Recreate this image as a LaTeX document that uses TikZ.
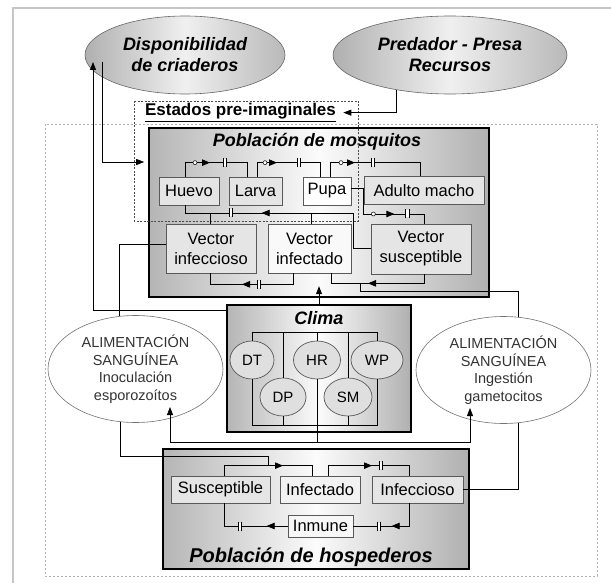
\documentclass[tikz,border=0pt]{standalone}
\usepackage{fontspec}
\setmainfont{Liberation Sans}
\usetikzlibrary{arrows.meta,decorations.markings,shapes.geometric}

\tikzset{
  panel/.style={draw=black, line width=1.6pt, left color=gray!58, right color=gray!62, middle color=gray!3},
  ptitle/.style={font=\fontsize{18}{20}\selectfont\bfseries\itshape},
  stock/.style={draw=black!65, line width=0.7pt, fill=gray!20, inner sep=0pt, align=center,
    font=\fontsize{16.5}{20}\selectfont, minimum height=28},
  topcloud/.style={ellipse, draw=black!60, line width=0.6pt, left color=gray!62, right color=gray!55,
    middle color=gray!12, align=center, font=\fontsize{18}{21}\selectfont\bfseries\itshape},
  feed/.style={ellipse, draw=black!55, line width=0.6pt, fill=white, inner sep=1pt, align=center,
    text=black!80, font=\fontsize{14.5}{17.5}\selectfont},
  factor/.style={ellipse, draw=black!65, line width=0.7pt, fill=gray!25, inner sep=0pt,
    font=\fontsize{15}{17}\selectfont, minimum height=38},
  regionline/.style={draw=gray!60, line width=0.8pt, dash pattern=on 2pt off 2pt},
  stagebox/.style={draw=black!70, line width=0.8pt, dash pattern=on 2pt off 1.5pt},
  valvecirc/.style={postaction={decorate, decoration={markings,
    mark=at position #1 with {\draw[fill=white, line width=0.5pt] (0,0) circle (2pt);}}}},
  valvetip/.style={postaction={decorate, decoration={markings,
    mark=at position #1 with {\arrow{Triangle[length=8pt,width=6.5pt]}}}}},
  valvebars/.style={postaction={decorate, decoration={markings,
    mark=at position #1 with {\fill[white] (-1.6pt,-3.5pt) rectangle (1.6pt,3.5pt);
      \draw[line width=0.7pt] (-1.6pt,-4.5pt) -- (-1.6pt,4.5pt) (1.6pt,-4.5pt) -- (1.6pt,4.5pt);}}}},
}

\begin{document}
\begin{tikzpicture}[x=1pt, y=-1pt, line width=0.8pt, >={Triangle[length=8pt,width=6pt]}]
  \useasboundingbox (0,0) rectangle (611,583);
  \fill[white] (0,0) rectangle (611,583);
  \draw[line width=2pt, draw=gray!45] (13,583) -- (13,8) -- (611,8);
  \draw[regionline] (45,124) rectangle (597,576);

  % influences
  \node[topcloud, minimum width=200, minimum height=78] (disp) at (185,55) {Disponibilidad\\de criaderos};
  \node[topcloud, minimum width=234, minimum height=78] (pred) at (450,55) {Predador - Presa\\Recursos};

  % panels
  \node[panel, minimum width=340, minimum height=169] (mosq) at (319,212.5) {};
  \node[panel, minimum width=184, minimum height=127] (clima) at (319,368.5) {};
  \node[panel, minimum width=306, minimum height=120] (host) at (316,509) {};
  \node[ptitle] (mosqtitle) at (317,142) {Población de mosquitos};
  \node[ptitle] (climatitle) at (319,318) {Clima};
  \node[ptitle, font=\fontsize{20}{22}\selectfont\bfseries\itshape] (hosttitle) at (311,557) {Población de hospederos};

  % mosquito stocks
  \node[stock, minimum width=60] (huevo) at (189,191) {Huevo};
  \node[stock, minimum width=53] (larva) at (255.5,191) {Larva};
  \node[stock, minimum width=48, fill=white] (pupa) at (327,191) {Pupa};
  \node[stock, minimum width=120] (adulto) at (424,190.5) {Adulto macho};
  \node[stock, minimum width=90, minimum height=49] (vinfeccioso) at (211,248.5) {Vector\\infeccioso};
  \node[stock, minimum width=83, minimum height=49, fill=gray!5] (vinfectado) at (309.5,248.5) {Vector\\infectado};
  \node[stock, minimum width=100, minimum height=50] (vsusceptible) at (421,249) {Vector\\susceptible};

  % climate factors
  \node[factor, minimum width=44] (dt) at (252,360) {DT};
  \node[factor, minimum width=47] (hr) at (317,360) {HR};
  \node[factor, minimum width=52] (wp) at (377,360) {WP};
  \node[factor, minimum width=46] (dp) at (283,397) {DP};
  \node[factor, minimum width=48] (sm) at (348,397) {SM};

  % host stocks
  \node[stock, minimum width=99, minimum height=27] (susceptible) at (220.5,489.5) {Susceptible};
  \node[stock, minimum width=80, minimum height=27, fill=gray!10] (infectado) at (320,489.5) {Infectado};
  \node[stock, minimum width=91, minimum height=27] (infeccioso) at (417.5,489.5) {Infeccioso};
  \node[stock, minimum width=65, minimum height=22, fill=gray!6] (inmune) at (320.5,526) {Inmune};

  % blood meals
  \node[feed, minimum width=175, minimum height=107] (inoculacion) at (135.5,369) {ALIMENTACIÓN\\SANGUÍNEA\\Inoculación\\esporozoítos};
  \node[feed, minimum width=175, minimum height=107] (ingestion) at (503.5,370) {ALIMENTACIÓN\\SANGUÍNEA\\Ingestión\\gametocitos};

  % pre-imaginal stages
  \draw[stagebox] (134,101) rectangle (358,221);
  \node[font=\fontsize{17}{20}\selectfont\bfseries, inner sep=2pt, anchor=base] (estados) at (240.5,116) {\underline{Estados pre-imaginales}};

  % mosquito flows
  \draw[valvecirc=24pt, valvetip=39pt, valvebars=54pt] ([xshift=-4]huevo.north) -- ++(0,-14) -| ([xshift=-8.5]larva.north);
  \draw[valvecirc=22pt, valvetip=34pt, valvebars=56pt] ([xshift=1.5]larva.north) -- ++(0,-14) -| ([xshift=-7]pupa.north);
  \draw[valvecirc=25pt, valvetip=39pt, valvebars=57pt] ([xshift=3]pupa.north) -- ++(0,-14) -| ([xshift=-4]adulto.north);
  \draw[valvecirc=48pt, valvetip=69pt, valvebars=82pt] ([yshift=3]pupa.east) -- ++(12,0) -- ++(0,26) -| ([xshift=3]vsusceptible.north);
  \draw[valvetip=144pt, valvebars=175pt] ([yshift=1]vsusceptible.west) -- ++(-17,0) -- ++(0,-35) -| ([xshift=-4]huevo.south);
  \draw ([xshift=-1]vinfeccioso.north) -- ++(0,-11);
  \draw ([xshift=1.5]vinfectado.north) -- ++(0,-11);
  \draw[valvetip=62pt, valvebars=45pt] ([xshift=-16.5]vinfectado.south) -- ++(0,11) -| ([xshift=-1]vinfeccioso.south);
  \draw[valvetip=65pt] ([xshift=3]vsusceptible.south) -- ++(0,9) -| ([xshift=21.5]vinfectado.south);
  \coordinate (ingestjoin) at (360,283);
  \draw (ingestion.74) |- ([yshift=-8]ingestjoin) -- (ingestjoin);
  \draw ([yshift=4.5]vinfeccioso.west) -| (inoculacion.107);

  % outside influences
  \draw[->] (clima.north) -- ++(0,-18);
  \draw[->] ([yshift=-6]clima.north west) -| ([shift={(-92,7)}]disp.center);
  \draw[->] ([shift={(-83,7)}]disp.center) |- ([shift={(-4,-50.5)}]mosq.west);
  \draw[->] (pred.213) |- ([xshift=5]estados.east);

  % climate bus
  \coordinate (bustop) at ([yshift=-28]clima.north);
  \coordinate (busbot) at ([yshift=7]clima.south);
  \draw (dt.north |- bustop) -- (wp.north |- bustop);
  \draw (dt.south |- busbot) -- (wp.south |- busbot);
  \foreach \f in {dt,hr,wp,dp,sm} {
    \draw (\f.north) -- (\f.north |- bustop);
    \draw (\f.south) -- (\f.south |- busbot);
  }
  \path (hr.south |- clima.south) ++(0,10) coordinate (feedsplit);
  \draw (hr.south) -- (feedsplit);
  \draw[->] (feedsplit) -| ([shift={(34.5,38)}]inoculacion.center);
  \draw[->] (feedsplit) -| ([shift={(-33.5,38)}]ingestion.center);

  % host flows
  \coordinate (hostjoin) at (268,466);
  \draw (inoculacion.254) |- ([yshift=10]hostjoin) -- (hostjoin);
  \draw[valvetip=69pt] ([xshift=3.5]susceptible.north) -- ++(0,-10) -| ([xshift=-8]infectado.north);
  \draw[valvetip=54pt, valvebars=63pt] ([xshift=8]infectado.north) -- ++(0,-10) -| ([xshift=-8.5]infeccioso.north);
  \draw[valvetip=40pt, valvebars=53pt] ([xshift=-8.5]infeccioso.south) |- (inmune.east);
  \draw[valvetip=21pt, valvebars=48pt] (inmune.west) -| ([xshift=3.5]susceptible.south);
  \draw (infeccioso.east) -| (ingestion.286);
\end{tikzpicture}
\end{document}
